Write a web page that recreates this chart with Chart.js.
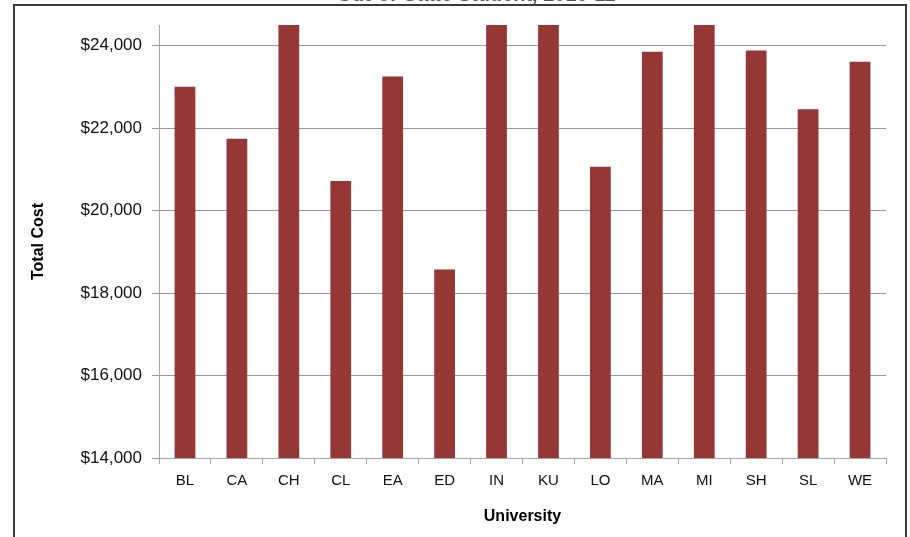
<!DOCTYPE html>
<html>
<head>
<meta charset="utf-8">
<script src="https://cdn.jsdelivr.net/npm/chart.js@4.4.1/dist/chart.umd.min.js"></script>
<style>
  body { margin: 0; background: #fff; }
  #wrap { width: 910px; height: 537px; position: relative; }
</style>
</head>
<body>
<div id="wrap"><canvas id="bar-chart" width="910" height="537"></canvas></div>
<script>
// values (the four tall bars run past the top of the axis)
var universities = ["BL", "CA", "CH", "CL", "EA", "ED", "IN", "KU", "LO", "MA", "MI", "SH", "SL", "WE"];
var totalCost = [23000, 21740, 24900, 20720, 23250, 18570, 24900, 24900, 21060, 23850, 24900, 23880, 22460, 23610];
var yTicks = [14000, 16000, 18000, 20000, 22000, 24000];
var chartTitle = "Out-of-State Student, 2010-11";
var yMin = 14000, yMax = 24500;

// frame round the chart and the cut-off title above it
var framePlugin = {
  id: 'frame',
  beforeDraw: function (chart) {
    var ctx = chart.ctx;
    ctx.save();
    ctx.fillStyle = '#fff';
    ctx.fillRect(0, 0, chart.width, chart.height);
    ctx.strokeStyle = '#3a3a3a';
    ctx.lineWidth = 2;
    ctx.beginPath();
    ctx.moveTo(14, 537);
    ctx.lineTo(14, 5);
    ctx.lineTo(906, 5);
    ctx.lineTo(906, 537);
    ctx.stroke();
    ctx.fillStyle = '#555';
    ctx.font = 'bold 20px "Liberation Sans", Arial, sans-serif';
    ctx.textAlign = 'center';
    ctx.textBaseline = 'alphabetic';
    ctx.fillText(chartTitle, 476, 1);
    ctx.restore();
  }
};

new Chart(document.getElementById("bar-chart"), {
  type: 'bar',
  data: {
    labels: universities,
    datasets: [
      {
        label: "Total Cost",
        backgroundColor: "#953735",
        borderWidth: 0,
        barPercentage: 0.4,
        categoryPercentage: 1,
        data: totalCost
      }
    ]
  },
  options: {
    responsive: false,
    animation: false,
    devicePixelRatio: 1,
    layout: { padding: { top: 25, right: 24, left: 0, bottom: 0 } },
    plugins: {
      legend: { display: false },
      tooltip: { enabled: false }
    },
    scales: {
      x: {
        offset: true,
        afterFit: function (scale) { scale.height = 79; },
        grid: { offset: true, drawOnChartArea: false, color: '#a6a6a6', tickLength: 6 },
        border: { color: '#a6a6a6', width: 1 },
        ticks: {
          autoSkip: false,
          maxRotation: 0,
          color: '#111',
          padding: 8,
          font: { family: '"Liberation Sans", Arial, sans-serif', size: 15 }
        },
        title: {
          display: true,
          text: 'University',
          color: '#000',
          padding: { top: 0, bottom: 11 },
          font: { family: '"Liberation Sans", Arial, sans-serif', size: 16, weight: 'bold' }
        }
      },
      y: {
        min: yMin,
        max: yMax,
        afterFit: function (scale) { scale.width = 159; },
        afterBuildTicks: function (scale) {
          scale.ticks = yTicks.map(function (v) { return { value: v }; });
        },
        grid: { color: '#9a9a9a', tickLength: 7 },
        border: { color: '#a6a6a6', width: 1 },
        ticks: {
          autoSkip: false,
          color: '#111',
          padding: 10,
          font: { family: '"Liberation Sans", Arial, sans-serif', size: 17 },
          callback: function (v) { return '$' + v.toLocaleString('en-US'); }
        },
        title: {
          display: true,
          text: 'Total Cost',
          color: '#000',
          padding: { top: 29, bottom: 0 },
          font: { family: '"Liberation Sans", Arial, sans-serif', size: 16, weight: 'bold' }
        }
      }
    }
  },
  plugins: [framePlugin]
});
</script>
</body>
</html>
